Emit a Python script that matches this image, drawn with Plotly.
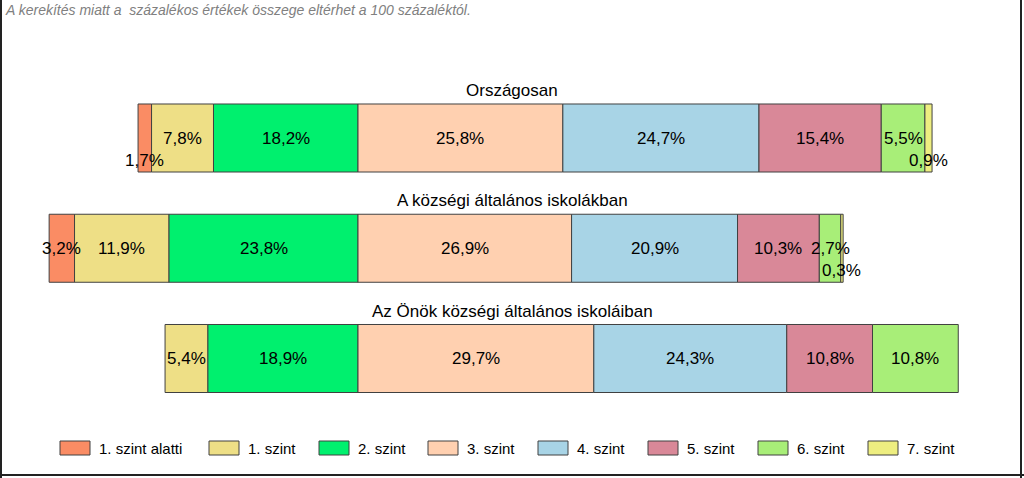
import plotly.graph_objects as go

# ---- data ----
groups = ["Országosan", "A községi általános iskolákban", "Az Önök községi általános iskoláiban"]
levels = ["1. szint alatti", "1. szint", "2. szint", "3. szint", "4. szint", "5. szint", "6. szint", "7. szint"]
orszagosan = [1.7, 7.8, 18.2, 25.8, 24.7, 15.4, 5.5, 0.9]
kozsegi = [3.2, 11.9, 23.8, 26.9, 20.9, 10.3, 2.7, 0.3]
onok = [0.0, 5.4, 18.9, 29.7, 24.3, 10.8, 10.8, 0.0]
note = "A kerekítés miatt a  százalékos értékek összege eltérhet a 100 százaléktól."

colors = ["#FA8C64", "#EEDF86", "#00F06E", "#FFD0B0", "#A8D4E6", "#D98898", "#A8EE78", "#EEEE80"]
series = [orszagosan, kozsegi, onok]
n_left = 3  # levels below the centre line (1. szint alatti, 1. szint, 2. szint)

W, H = 1024, 478
fig = go.Figure()

# compute bases per group
bases = []
for vals in series:
    left_total = sum(vals[:n_left])
    b = []
    cur = -left_total
    for v in vals:
        b.append(cur)
        cur += v
    bases.append(b)

annotations = []
for li, lev in enumerate(levels):
    xs, ys, bs = [], [], []
    for gi, g in enumerate(groups):
        v = series[gi][li]
        xs.append(v if v > 0 else None)
        ys.append(g)
        bs.append(bases[gi][li])
        if v > 0:
            annotations.append(dict(
                x=bases[gi][li] + v / 2, y=gi, xref="x", yref="y",
                text=f"{v:.1f}".replace(".", ",") + "%", showarrow=False,
                font=dict(family="Liberation Sans, Arial", size=17, color="#000000"),
                yshift=-22 if v < 2 else 0))
    fig.add_trace(go.Bar(
        x=xs, y=ys, base=bs, orientation="h", name=lev,
        marker=dict(color=colors[li], line=dict(color="#404040", width=1)),
        width=0.617, showlegend=False, hoverinfo="skip"))

for gi, g in enumerate(groups):
    annotations.append(dict(x=0.5, xref="paper", y=gi - 0.43, yref="y", text=g,
                            showarrow=False,
                            font=dict(family="Liberation Sans, Arial", size=17, color="#000000")))

annotations.append(dict(x=3 / W, xref="paper", y=1 - 10 / H, yref="paper", text="<i>" + note + "</i>",
                        xanchor="left", yanchor="middle", showarrow=False,
                        font=dict(family="Liberation Sans, Arial", size=14, color="#808080")))

shapes = []
# manual legend
leg_x = [60, 209, 319, 428, 538, 648, 758, 868]
for li, lev in enumerate(levels):
    x0 = leg_x[li]
    shapes.append(dict(type="rect", xref="paper", yref="paper",
                       x0=x0 / W, x1=(x0 + 30) / W, y0=1 - 455 / H, y1=1 - 441 / H,
                       fillcolor=colors[li], line=dict(color="#404040", width=1)))
    annotations.append(dict(x=(x0 + 37) / W, xref="paper", y=1 - 448 / H, yref="paper",
                            text=lev, xanchor="left", yanchor="middle", showarrow=False,
                            font=dict(family="Liberation Sans, Arial", size=15, color="#000000")))

# outer frame (left, right, bottom)
frame = dict(color="#222222", width=2)
shapes.append(dict(type="line", xref="paper", yref="paper", x0=1 / W, x1=1 / W, y0=0, y1=1, line=frame))
shapes.append(dict(type="line", xref="paper", yref="paper", x0=1021 / W, x1=1021 / W, y0=0, y1=1, line=frame))
shapes.append(dict(type="line", xref="paper", yref="paper", x0=0, x1=1, y0=1 - 475 / H, y1=1 - 475 / H, line=frame))

px_per = 7.94
cx = 358
fig.update_layout(
    width=W, height=H,
    margin=dict(l=0, r=0, t=0, b=0),
    paper_bgcolor="white", plot_bgcolor="white",
    barmode="overlay",
    xaxis=dict(range=[-cx / px_per, (W - cx) / px_per], visible=False, fixedrange=True),
    yaxis=dict(type="category", categoryarray=groups, categoryorder="array",
               range=[(H - 138) / 110.25, -138 / 110.25], visible=False, fixedrange=True),
    annotations=annotations, shapes=shapes, showlegend=False,
)

fig.write_html("out.html")
